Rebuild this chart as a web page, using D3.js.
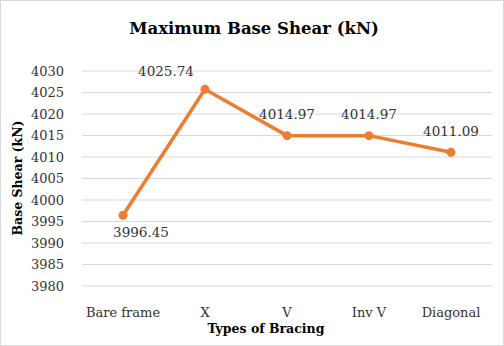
<!DOCTYPE html>
<html>
<head>
<meta charset="utf-8">
<script src="https://cdn.jsdelivr.net/npm/d3@7"></script>
<style>
body { margin: 0; background: #fff; }
svg { display: block; font-family: "DejaVu Serif", serif; }
</style>
</head>
<body>
<svg width="504" height="346"></svg>
<script>
var categories = ['Bare frame', 'X', 'V', 'Inv V', 'Diagonal'];
var baseShear = [3996.45, 4025.74, 4014.97, 4014.97, 4011.09];
var yTicks = [3980, 3985, 3990, 3995, 4000, 4005, 4010, 4015, 4020, 4025, 4030];

var svg = d3.select('svg');
var width = 504, height = 346;
var plotLeft = 82, plotRight = 492, plotTop = 71, plotBottom = 286;

svg.append('rect')
	.attr('x', 0.5).attr('y', 0.5)
	.attr('width', width - 1).attr('height', height - 1)
	.attr('fill', '#fff')
	.attr('stroke', '#d9d9d9');

var xScale = d3.scaleBand().domain(categories).range([plotLeft, plotRight]);
var yScale = d3.scaleLinear().domain([3980, 4030]).range([plotBottom, plotTop]);

// grid
svg.append('g')
	.selectAll('line')
	.data(yTicks)
	.enter()
	.append('line')
	.attr('x1', plotLeft).attr('x2', plotRight)
	.attr('y1', function (d) { return yScale(d); })
	.attr('y2', function (d) { return yScale(d); })
	.attr('stroke', '#d9d9d9')
	.attr('stroke-width', 1);

var yAxis = d3.axisLeft(yScale).tickValues(yTicks).tickFormat(d3.format('d')).tickSize(0).tickPadding(0);
svg.append('g')
	.attr('transform', 'translate(64,0)')
	.call(yAxis)
	.call(function (g) { g.select('.domain').remove(); })
	.selectAll('text')
	.attr('font-family', '"DejaVu Serif", serif')
	.attr('font-size', 13)
	.attr('fill', '#333');

var xAxis = d3.axisBottom(xScale).tickSize(0).tickPadding(0);
svg.append('g')
	.attr('transform', 'translate(0,308)')
	.call(xAxis)
	.call(function (g) { g.select('.domain').remove(); })
	.selectAll('text')
	.attr('font-family', '"DejaVu Serif", serif')
	.attr('font-size', 13)
	.attr('fill', '#333');

var cx = function (d, i) { return xScale(categories[i]) + xScale.bandwidth() / 2; };

var line = d3.line()
	.x(function (d, i) { return cx(d, i); })
	.y(function (d) { return yScale(d); });

svg.append('path')
	.datum(baseShear)
	.attr('d', line)
	.attr('fill', 'none')
	.attr('stroke', '#ed7d31')
	.attr('stroke-width', 3.5)
	.attr('stroke-linejoin', 'round');

svg.append('g')
	.selectAll('circle')
	.data(baseShear)
	.enter()
	.append('circle')
	.attr('cx', cx)
	.attr('cy', function (d) { return yScale(d); })
	.attr('r', 4.5)
	.attr('fill', '#ed7d31');

// label nudges, as Excel placed them
var labelDx = [18, -39, 0, 0, 0];
var labelDy = [22, -13, -17, -17, -16];

svg.append('g')
	.selectAll('text')
	.data(baseShear)
	.enter()
	.append('text')
	.attr('x', function (d, i) { return cx(d, i) + labelDx[i]; })
	.attr('y', function (d, i) { return yScale(d) + labelDy[i]; })
	.attr('text-anchor', 'middle')
	.attr('font-size', 13.5)
	.attr('fill', '#333')
	.text(function (d) { return d.toFixed(2); });

svg.append('text')
	.attr('x', 254).attr('y', 34)
	.attr('text-anchor', 'middle')
	.attr('font-size', 16.5)
	.attr('font-weight', 'bold')
	.attr('fill', '#000')
	.text('Maximum Base Shear (kN)');

svg.append('text')
	.attr('x', 266).attr('y', 333)
	.attr('text-anchor', 'middle')
	.attr('font-size', 12.5)
	.attr('font-weight', 'bold')
	.attr('fill', '#000')
	.text('Types of Bracing');

svg.append('text')
	.attr('transform', 'translate(22,178) rotate(-90)')
	.attr('text-anchor', 'middle')
	.attr('font-size', 12.5)
	.attr('font-weight', 'bold')
	.attr('fill', '#000')
	.text('Base Shear (kN)');
</script>
</body>
</html>
